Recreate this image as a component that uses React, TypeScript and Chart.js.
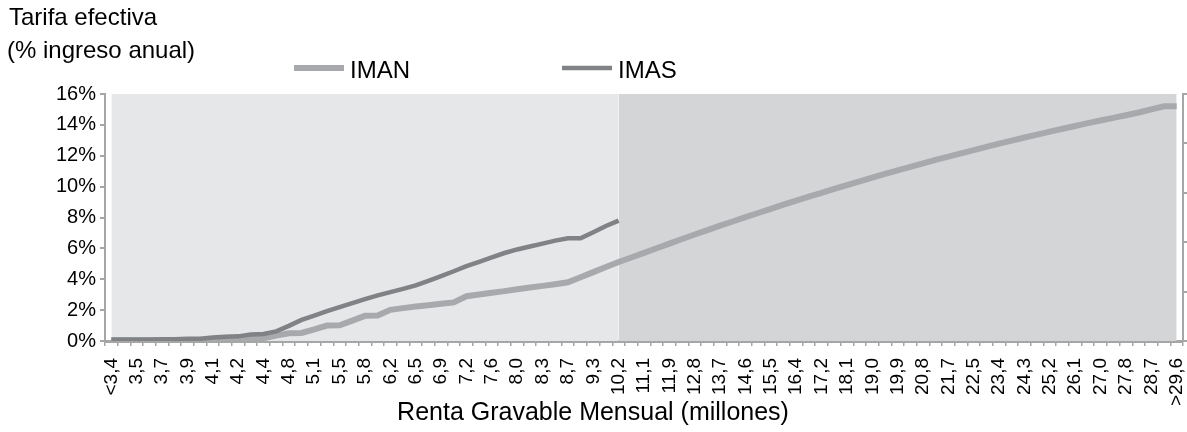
import React, { useEffect, useRef } from 'react';
import { Chart, registerables } from 'chart.js';

Chart.register(...registerables);

// Labelled ticks (one label every second category)
const tickLabels = [
  '<3,4', '3,5', '3,7', '3,9', '4,1', '4,2', '4,4', '4,8', '5,1', '5,5', '5,8',
  '6,2', '6,5', '6,9', '7,2', '7,6', '8,0', '8,3', '8,7', '9,3', '10,2',
  '11,1', '11,9', '12,8', '13,7', '14,6', '15,5', '16,4', '17,2', '18,1', '19,0',
  '19,9', '20,8', '21,7', '22,5', '23,4', '24,3', '25,2', '26,1', '27,0', '27,8',
  '28,7', '>29,6',
];

// IMAN effective rate (% of annual income), one value per category
const imanValues = [
  0.03, 0.03, 0.03, 0.03, 0.04, 0.04, 0.05, 0.05, 0.06, 0.08,
  0.10, 0.13, 0.18, 0.35, 0.50, 0.52, 0.75, 1.00, 1.02, 1.32,
  1.63, 1.65, 2.02, 2.13, 2.23, 2.32, 2.41, 2.50, 2.90, 3.01,
  3.12, 3.23, 3.35, 3.46, 3.57, 3.68, 3.80, 4.13, 4.46, 4.79,
  5.12, 5.41, 5.71, 6.01, 6.31, 6.61, 6.90, 7.18, 7.47, 7.74,
  8.02, 8.29, 8.56, 8.83, 9.09, 9.35, 9.60, 9.85, 10.10, 10.34,
  10.58, 10.82, 11.05, 11.28, 11.50, 11.73, 11.94, 12.16, 12.37, 12.58,
  12.78, 12.98, 13.18, 13.37, 13.56, 13.75, 13.93, 14.11, 14.28, 14.45,
  14.62, 14.80, 15.00, 15.20, 15.20,
];

// IMAS effective rate (% of annual income), only up to 10,2 millones
const imasValues = [
  0.10, 0.10, 0.10, 0.10, 0.11, 0.12, 0.14, 0.15, 0.22, 0.28,
  0.30, 0.42, 0.45, 0.62, 0.98, 1.37, 1.65, 1.94, 2.20, 2.46,
  2.71, 2.96, 3.17, 3.38, 3.60, 3.90, 4.20, 4.52, 4.85, 5.13,
  5.42, 5.70, 5.93, 6.12, 6.31, 6.50, 6.65, 6.65, 7.05, 7.45,
  7.80,
];

const bandSplitLabel = '10,2';
const yMax = 16;
const yStep = 2;
const titleLines = ['Tarifa efectiva', '(% ingreso anual)'];
const xTitle = 'Renta Gravable Mensual (millones)';

const FONT = '"Liberation Sans", Arial, sans-serif';
const AXIS_GREY = '#a6a6a6';

export default function App() {
  const ref = useRef<HTMLCanvasElement | null>(null);

  useEffect(() => {
    document.body.style.margin = '0';
    const canvas = ref.current;
    if (!canvas) return;

    const categories = imanValues.map((_, i) => (i % 2 === 0 ? tickLabels[i / 2] : ''));
    const split = tickLabels.indexOf(bandSplitLabel) * 2;
    const bgLight = categories.map((_, i) => (i <= split ? 100 : null));
    const bgDark = categories.map((_, i) => (i >= split ? 100 : null));
    const imas = categories.map((_, i) => (i < imasValues.length ? imasValues[i] : null));

    const textPlugin = {
      id: 'texts',
      afterDraw(chart: any) {
        const ctx = chart.ctx as CanvasRenderingContext2D;
        ctx.save();
        ctx.fillStyle = '#000';
        ctx.textAlign = 'left';
        ctx.textBaseline = 'alphabetic';
        ctx.font = `24px ${FONT}`;
        ctx.fillText(titleLines[0], 9, 25);
        ctx.fillText(titleLines[1], 7, 58);

        // legend
        const legendItems = [
          { ds: 1, x: 294 },
          { ds: 0, x: 562 },
        ];
        legendItems.forEach((it) => {
          const ds = chart.data.datasets[it.ds];
          ctx.strokeStyle = ds.borderColor;
          ctx.lineWidth = ds.borderWidth;
          ctx.lineCap = 'butt';
          ctx.beginPath();
          ctx.moveTo(it.x, 68);
          ctx.lineTo(it.x + 50, 68);
          ctx.stroke();
          ctx.font = `24px ${FONT}`;
          ctx.fillText(ds.label, it.x + 56, 78);
        });

        ctx.textAlign = 'center';
        ctx.font = `25px ${FONT}`;
        ctx.fillText(xTitle, 593, 420);
        ctx.restore();
      },
    };

    const chart = new Chart(canvas, {
      type: 'line',
      data: {
        labels: categories,
        datasets: [
          {
            label: 'IMAS',
            data: imas,
            borderColor: '#808285',
            borderWidth: 4.5,
            pointRadius: 0,
            tension: 0,
            fill: false,
            yAxisID: 'y',
            order: 0,
          },
          {
            label: 'IMAN',
            data: imanValues,
            borderColor: '#a7a9ac',
            borderWidth: 6,
            pointRadius: 0,
            tension: 0,
            fill: false,
            yAxisID: 'y',
            order: 1,
          },
          {
            label: 'bandLight',
            data: bgLight,
            borderColor: 'rgba(0,0,0,0)',
            backgroundColor: '#e6e7e8',
            borderWidth: 0,
            pointRadius: 0,
            fill: 'origin',
            yAxisID: 'y2',
            order: 2,
          },
          {
            label: 'bandDark',
            data: bgDark,
            borderColor: 'rgba(0,0,0,0)',
            backgroundColor: '#d4d5d7',
            borderWidth: 0,
            pointRadius: 0,
            fill: 'origin',
            yAxisID: 'y2',
            order: 3,
          },
        ],
      },
      options: {
        responsive: false,
        animation: false,
        devicePixelRatio: 1,
        layout: { padding: { top: 94, left: 0, right: 0, bottom: 0 } },
        plugins: {
          legend: { display: false },
          title: { display: false },
          tooltip: { enabled: false },
        },
        scales: {
          x: {
            type: 'category',
            offset: true,
            grid: {
              offset: true,
              drawOnChartArea: false,
              color: AXIS_GREY,
              tickLength: 5,
              lineWidth: 1.5,
            },
            border: { color: AXIS_GREY, width: 3 },
            ticks: {
              autoSkip: false,
              maxRotation: 90,
              minRotation: 90,
              padding: 12,
              color: '#000',
              font: { family: FONT, size: 19 },
            },
            afterFit: (s: any) => {
              s.height = 91;
              s.paddingLeft = 0;
              s.paddingRight = 0;
            },
          },
          y: {
            position: 'left',
            min: 0,
            max: yMax,
            ticks: {
              stepSize: yStep,
              padding: 4,
              color: '#000',
              font: { family: FONT, size: 20 },
              callback: (v: any) => `${v}%`,
            },
            grid: {
              drawOnChartArea: false,
              color: AXIS_GREY,
              tickLength: 5,
              lineWidth: 2,
            },
            border: { color: AXIS_GREY, width: 2 },
            afterFit: (s: any) => {
              s.width = 105;
            },
          },
          y2: {
            position: 'right',
            min: 0,
            max: 100,
            ticks: {
              stepSize: 20,
              callback: () => '',
            },
            grid: {
              drawOnChartArea: false,
              color: AXIS_GREY,
              tickLength: 4,
              lineWidth: 2,
            },
            border: { color: AXIS_GREY, width: 2 },
            afterFit: (s: any) => {
              s.width = 4;
            },
          },
        },
      },
      plugins: [textPlugin],
    });

    return () => chart.destroy();
  }, []);

  return <canvas ref={ref} width={1187} height={432} style={{ display: 'block' }} />;
}
